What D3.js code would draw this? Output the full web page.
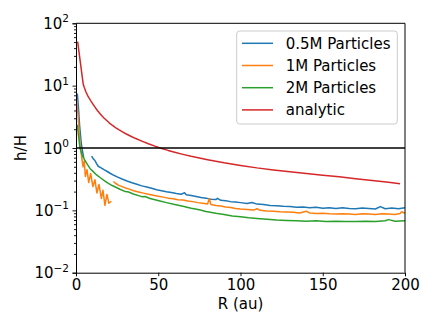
<!DOCTYPE html>
<html>
<head>
<meta charset="utf-8">
<script src="https://cdn.jsdelivr.net/npm/d3@7"></script>
<style>
  body { margin: 0; background: #fff; }
  svg { font-family: "DejaVu Sans", sans-serif; }
</style>
</head>
<body>
<svg id="chart"></svg>
<script>
// values, [R (au), h/H]
var blue = [
  [0.8, 7.5], [1.5, 4.4], [2.2, 2.3], [3.0, 1.35], [3.6, 1.0], [4.2, 0.82], [4.7, 0.7], null,
  [9.5, 0.74], [10.5, 0.67], [11.5, 0.63], [12.5, 0.56], [13.5, 0.51], [15, 0.485], [17, 0.45],
  [19, 0.42], [21, 0.39], [23, 0.365], [25, 0.345], [28, 0.318], [31, 0.296], [34, 0.277],
  [37, 0.262], [40, 0.247], [43, 0.236], [46, 0.226], [49, 0.214], [52, 0.207], [55, 0.199],
  [58, 0.193], [61, 0.186], [64, 0.181], [66, 0.192], [67, 0.178], [70, 0.173], [73, 0.167],
  [76, 0.161], [79, 0.157], [82, 0.151], [85, 0.149], [86, 0.156], [88, 0.145], [91, 0.142],
  [94, 0.138], [97, 0.136], [100, 0.133], [104, 0.129], [107, 0.134], [110, 0.126], [114, 0.124],
  [118, 0.12], [122, 0.119], [126, 0.116], [130, 0.115], [134, 0.112], [138, 0.113], [142, 0.11],
  [146, 0.112], [150, 0.108], [154, 0.11], [158, 0.107], [162, 0.11], [166, 0.107], [170, 0.106],
  [174, 0.109], [178, 0.107], [182, 0.105], [185, 0.115], [188, 0.106], [192, 0.109],
  [196, 0.106], [200, 0.11]
];
var orange = [
  [0.4, 6.0], [1.0, 4.0], [1.8, 2.0], [2.6, 1.1], [3.5, 0.7], [4.3, 0.5], [5.0, 0.62], [5.7, 0.35],
  [6.7, 0.45], [7.7, 0.28], [8.9, 0.39], [10.3, 0.24], [11.5, 0.31], [12.7, 0.19], [14, 0.26],
  [15.4, 0.155], [16.4, 0.21], [17.6, 0.12], [18.8, 0.18], [20, 0.13], [21.5, 0.14], null,
  [22.7, 0.29], [24, 0.272], [26, 0.252], [28, 0.24], [30, 0.229], [32, 0.221], [35, 0.206],
  [38, 0.197], [41, 0.189], [44, 0.181], [47, 0.174], [50, 0.168], [53, 0.163], [56, 0.157],
  [59, 0.154], [62, 0.148], [65, 0.146], [68, 0.141], [71, 0.138], [74, 0.133], [77, 0.13],
  [80, 0.126], [81, 0.155], [82, 0.124], [85, 0.12], [88, 0.117], [91, 0.113], [94, 0.111],
  [97, 0.107], [100, 0.105], [104, 0.103], [108, 0.101], [110, 0.106], [112, 0.1], [116, 0.098],
  [120, 0.097], [124, 0.095], [128, 0.094], [132, 0.093], [136, 0.091], [140, 0.097], [142, 0.091],
  [146, 0.089], [150, 0.09], [154, 0.088], [158, 0.087], [162, 0.088], [166, 0.087], [170, 0.086],
  [174, 0.088], [178, 0.087], [182, 0.086], [186, 0.088], [190, 0.087], [194, 0.086],
  [197, 0.089], [198, 0.095], [200, 0.09]
];
var green = [
  [0.8, 2.35], [1.5, 1.6], [2.4, 1.0], [3.5, 0.8], [4.5, 0.7], [5.5, 0.63], [7, 0.54], [8.5, 0.47],
  [10, 0.43], [12.5, 0.37], [15, 0.33], [18.7, 0.28], [22, 0.25], [26.7, 0.218], [30, 0.2],
  [32, 0.197], [34.8, 0.183], [40, 0.166], [42, 0.167], [45, 0.155], [51, 0.141], [55, 0.133],
  [60, 0.124], [65, 0.116], [70, 0.108], [75, 0.102], [79, 0.096], [85, 0.09], [90, 0.086],
  [95, 0.081], [100, 0.079], [105, 0.076], [110, 0.074], [116, 0.072], [122, 0.07], [128, 0.069],
  [134, 0.068], [140, 0.067], [146, 0.068], [152, 0.066], [158, 0.067], [164, 0.066], [170, 0.066],
  [176, 0.067], [182, 0.066], [188, 0.068], [190, 0.071], [194, 0.067], [200, 0.068]
];
var analytic = [
  [1, 51], [4.4, 10.5], [5, 9.4], [6, 8.0], [7, 7.0], [8, 6.3], [9, 5.7], [10, 5.2], [11, 4.75],
  [12, 4.35], [13, 4.0], [14, 3.7], [15, 3.45], [16, 3.22], [17, 3.03], [18, 2.86], [20, 2.56],
  [22, 2.32], [24, 2.13], [26, 1.97], [28, 1.83], [30, 1.71], [33, 1.56], [36, 1.43], [40, 1.29],
  [44, 1.17], [48, 1.07], [52, 0.985], [56, 0.915], [60, 0.855], [65, 0.79], [70, 0.735],
  [75, 0.69], [80, 0.65], [90, 0.58], [100, 0.525], [110, 0.48], [120, 0.445], [130, 0.415],
  [140, 0.39], [150, 0.365], [160, 0.345], [170, 0.322], [180, 0.3], [190, 0.282], [197, 0.268]
];
var seriesNames = ['0.5M Particles', '1M Particles', '2M Particles', 'analytic'];
var seriesColors = ['#1f77b4', '#ff7f0e', '#2ca02c', '#d62728'];
var xTicks = [0, 50, 100, 150, 200];
var yTickExp = [-2, -1, 0, 1, 2];
var yTickLabels = ['\u22122', '\u22121', '0', '1', '2'];

var W = 436, H = 327;
var pL = 76, pR = 405, pT = 23.3, pB = 272.7;

var svg = d3.select('#chart').attr('width', W).attr('height', H);

var x = d3.scaleLinear().domain([0, 200]).range([pL, pR]);
var y = d3.scaleLog().domain([0.01, 100]).range([pB, pT]);

svg.append('clipPath').attr('id', 'clip')
  .append('rect').attr('x', pL).attr('y', pT)
  .attr('width', pR - pL).attr('height', pB - pT);

var plot = svg.append('g').attr('clip-path', 'url(#clip)');

var line = d3.line()
  .defined(function (d) { return d !== null; })
  .x(function (d) { return x(d[0]); })
  .y(function (d) { return y(d[1]); });

[blue, orange, green, analytic].forEach(function (s, i) {
  plot.append('path')
    .datum(s)
    .attr('fill', 'none')
    .attr('stroke', seriesColors[i])
    .attr('stroke-width', 1.5)
    .attr('stroke-linejoin', 'round')
    .attr('d', line);
});

// h/H = 1 line
plot.append('line')
  .attr('x1', pL).attr('x2', pR)
  .attr('y1', y(1)).attr('y2', y(1))
  .attr('stroke', '#000').attr('stroke-width', 1.5);

// axes
var xAxis = svg.append('g').attr('transform', 'translate(0,' + pB + ')')
  .call(d3.axisBottom(x).tickValues(xTicks).tickSize(3.5).tickPadding(3.5));
xAxis.selectAll('text').attr('font-size', 15).attr('fill', '#000')
  .attr('font-family', '"DejaVu Sans", sans-serif');

var minor = [];
for (var e = -2; e < 2; e++) {
  for (var k = 2; k <= 9; k++) minor.push(k * Math.pow(10, e));
}
svg.append('g').attr('transform', 'translate(' + pL + ',0)')
  .call(d3.axisLeft(y).tickValues(minor).tickSize(2).tickFormat(''))
  .call(function (g) { g.select('.domain').remove(); });

svg.append('g').attr('transform', 'translate(' + pL + ',0)')
  .call(d3.axisLeft(y).tickValues(yTickExp.map(function (p) { return Math.pow(10, p); }))
    .tickSize(3.5).tickFormat(''));

yTickExp.forEach(function (p, i) {
  var t = svg.append('text')
    .attr('x', pL - 7).attr('y', y(Math.pow(10, p)) + 5.5)
    .attr('text-anchor', 'end').attr('font-size', 15).attr('fill', '#000');
  t.append('tspan').text('10');
  t.append('tspan').attr('font-size', 10.5).attr('dy', -6.5).text(yTickLabels[i]);
});

svg.selectAll('.domain').attr('stroke', '#000').attr('stroke-width', 1);
svg.selectAll('.tick line').attr('stroke', '#000').attr('stroke-width', 0.9);

// frame top/right
svg.append('line').attr('x1', pL).attr('x2', pR).attr('y1', pT).attr('y2', pT)
  .attr('stroke', '#000').attr('stroke-width', 1);
svg.append('line').attr('x1', pR).attr('x2', pR).attr('y1', pT).attr('y2', pB)
  .attr('stroke', '#000').attr('stroke-width', 1);

// axis labels
svg.append('text').attr('x', (pL + pR) / 2).attr('y', 309)
  .attr('text-anchor', 'middle').attr('font-size', 15).text('R (au)');
svg.append('text')
  .attr('transform', 'translate(26,' + ((pT + pB) / 2) + ') rotate(-90)')
  .attr('text-anchor', 'middle').attr('font-size', 15).text('h/H');

// legend
var lg = svg.append('g');
lg.append('rect').attr('x', 236.7).attr('y', 31).attr('width', 160.6).attr('height', 93)
  .attr('rx', 3).attr('fill', '#fff').attr('fill-opacity', 0.8)
  .attr('stroke', '#ccc').attr('stroke-width', 1);
seriesNames.forEach(function (name, i) {
  var cy = 43.3 + i * 22.2;
  lg.append('line').attr('x1', 242).attr('x2', 273).attr('y1', cy).attr('y2', cy)
    .attr('stroke', seriesColors[i]).attr('stroke-width', 1.5);
  lg.append('text').attr('x', 285.7).attr('y', cy + 5.5).attr('font-size', 15).text(name);
});
</script>
</body>
</html>
